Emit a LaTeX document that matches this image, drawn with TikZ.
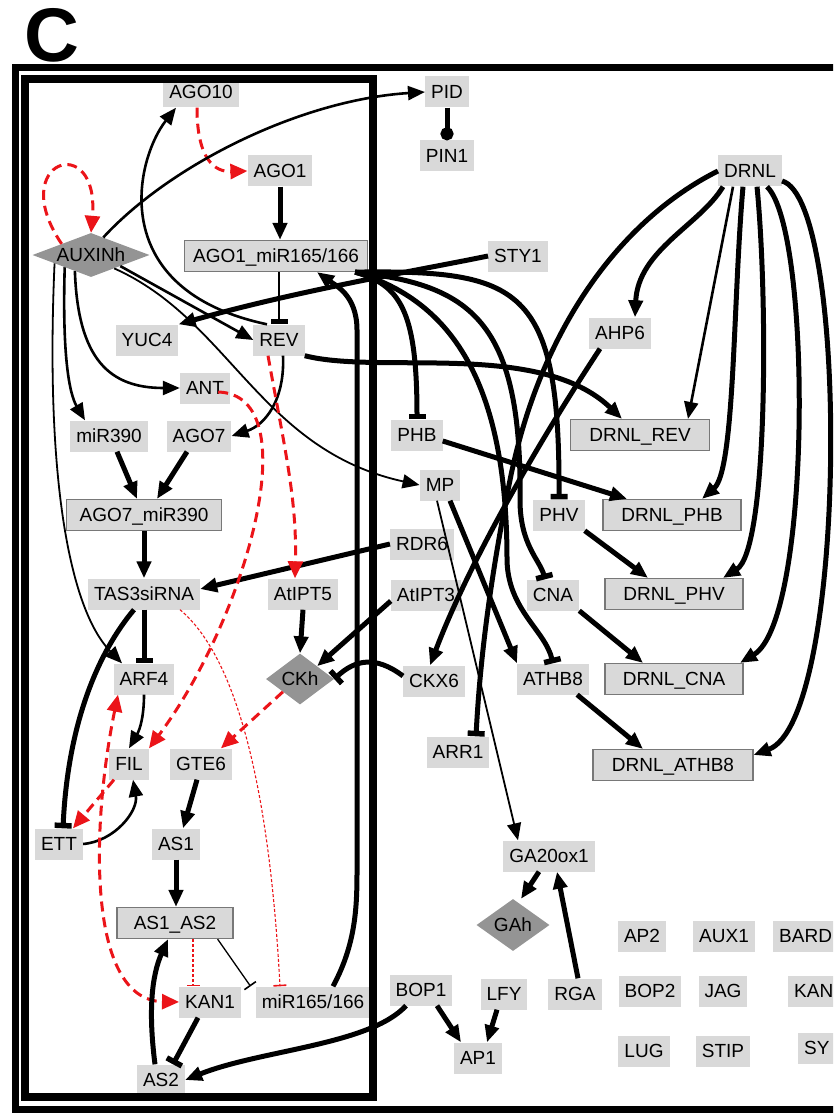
\documentclass[tikz,border=0pt]{standalone}
\usepackage{fontspec}
\setmainfont{Liberation Sans}
\usetikzlibrary{arrows.meta,shapes.geometric}
\definecolor{boxgray}{RGB}{217,217,217}
\definecolor{hormgray}{RGB}{148,148,148}
\definecolor{rimgray}{RGB}{120,120,120}
\definecolor{netred}{RGB}{235,20,25}

\begin{document}
\begin{tikzpicture}[x=1pt,y=-1pt,
	>={Triangle[length=17pt,width=14pt]},
	every node/.style={font=\fontsize{19}{22}\selectfont},
	gene/.style={fill=boxgray,inner xsep=6pt,inner ysep=0pt,minimum height=31pt,text height=14pt,text depth=1pt},
	cplx/.style={gene,draw=rimgray,line width=1.2pt},
	horm/.style={diamond,fill=hormgray,inner sep=0pt},
	fat/.style={line width=5pt},
	mid/.style={line width=2.6pt},
	slim/.style={line width=1.8pt},
	act/.style={->},
	inh/.style={-{Bar[width=17pt,line width=5.5pt]}},
	inhthin/.style={line width=1.3pt,-{Bar[width=14pt,line width=1.6pt]}},
	reddash/.style={draw=netred,line width=3pt,dash pattern=on 10pt off 6pt,-{Triangle[length=17pt,width=15pt]}},
	redfine/.style={draw=netred,line width=1.1pt,dash pattern=on 3pt off 2pt,-{Bar[width=13pt,line width=1.6pt]}}]

	\useasboundingbox (0,0) rectangle (833,1115);
	\clip (0,0) rectangle (833,1115);

	\node[font=\fontsize{76}{76}\bfseries\selectfont] (panel) at (52,35) {C};

	% left panel
	\node[gene] (AGO10) at (201,92) {AGO10};
	\node[gene] (AGO1) at (280,171) {AGO1};
	\node[horm,minimum width=117pt,minimum height=44pt,aspect=2.7] (AUXINh) at (91,255) {AUXINh};
	\node[cplx,minimum width=183pt] (AGOmiR) at (276,256) {AGO1\_miR165/166};
	\node[gene] (YUC4) at (147,340) {YUC4};
	\node[gene] (REV) at (279,340) {REV};
	\node[gene] (ANT) at (205,388) {ANT};
	\node[gene] (miR390) at (109,436) {miR390};
	\node[gene] (AGO7) at (199,436) {AGO7};
	\node[cplx,minimum width=155pt] (AGO7miR) at (144,515) {AGO7\_miR390};
	\node[gene] (TAS3) at (144,594) {TAS3siRNA};
	\node[gene] (AtIPT5) at (303,594) {AtIPT5};
	\node[gene] (ARF4) at (144,679) {ARF4};
	\node[horm,minimum width=68pt,minimum height=42pt] (CKh) at (300,679) {CKh};
	\node[gene] (FIL) at (129,764) {FIL};
	\node[gene] (GTE6) at (201,764) {GTE6};
	\node[gene] (ETT) at (59,844) {ETT};
	\node[gene] (AS1) at (176,844) {AS1};
	\node[cplx,minimum width=116pt] (AS1AS2) at (175,923) {AS1\_AS2};
	\node[gene] (KAN1) at (210,1002) {KAN1};
	\node[gene] (miR165) at (313,1002) {miR165/166};
	\node[gene] (AS2) at (161,1080) {AS2};

	% right part
	\node[gene] (PID) at (447,92) {PID};
	\node[gene] (PIN1) at (447,156) {PIN1};
	\node[gene] (DRNL) at (750,171) {DRNL};
	\node[gene] (STY1) at (518,256) {STY1};
	\node[gene] (AHP6) at (620,333) {AHP6};
	\node[gene] (PHB) at (417,435) {PHB};
	\node[cplx,minimum width=139pt] (DRNLREV) at (640,435) {DRNL\_REV};
	\node[gene] (MP) at (440,485) {MP};
	\node[gene] (PHV) at (559,515) {PHV};
	\node[cplx,minimum width=138pt] (DRNLPHB) at (672,515) {DRNL\_PHB};
	\node[gene] (RDR6) at (422,544) {RDR6};
	\node[gene] (AtIPT3) at (426,595) {AtIPT3};
	\node[gene] (CNA) at (553,595) {CNA};
	\node[cplx,minimum width=138pt] (DRNLPHV) at (674,594) {DRNL\_PHV};
	\node[gene] (CKX6) at (434,681) {CKX6};
	\node[gene] (ATHB8) at (553,679) {ATHB8};
	\node[cplx,minimum width=138pt] (DRNLCNA) at (674,679) {DRNL\_CNA};
	\node[gene] (ARR1) at (458,752) {ARR1};
	\node[cplx,minimum width=160pt] (DRNLATHB8) at (673,765) {DRNL\_ATHB8};
	\node[gene] (GA20ox1) at (549,856) {GA20ox1};
	\node[horm,minimum width=73pt,minimum height=42pt] (GAh) at (513,925) {GAh};
	\node[gene] (BOP1) at (421,990) {BOP1};
	\node[gene] (LFY) at (504,994) {LFY};
	\node[gene] (RGA) at (575,994) {RGA};
	\node[gene] (AP1) at (478,1058) {AP1};

	% unconnected genes
	\node[gene] (AP2) at (642,936) {AP2};
	\node[gene] (AUX1) at (724,936) {AUX1};
	\node[gene,anchor=west] (BARD) at (773,936) {BARD};
	\node[gene] (BOP2) at (650,991) {BOP2};
	\node[gene] (JAG) at (723,991) {JAG};
	\node[gene,anchor=west] (KAN) at (788,991) {KAN};
	\node[gene] (LUG) at (644,1051) {LUG};
	\node[gene] (STIP) at (723,1051) {STIP};
	\node[gene,anchor=west] (SY) at (798,1048) {SY};

	% edges, left panel
	\draw[reddash] ([xshift=-4pt]AGO10.south) .. controls (197,160) and (215,172) .. (AGO1.west);
	\draw[reddash] (AUXINh.north west) .. controls (5,160) and (100,130) .. (AUXINh.north);
	\draw[act,mid] (AUXINh.55) .. controls (170,165) and (300,100) .. (PID.west);
	\draw[act,mid] ([xshift=-12pt]REV.north) .. controls (105,290) and (135,160) .. ([xshift=-25pt]AGO10.south);
	\draw[act,fat] (AGO1.south) -- (AGO1.south |- AGOmiR.north);
	\draw[inh,mid] (REV.north |- AGOmiR.south) -- (REV.north);
	\draw[act,mid] (AUXINh.south east) -- (REV.west);
	\draw[act,slim] (AUXINh.-30) .. controls (230,320) and (260,450) .. (MP.west);
	\draw[act,mid] (AUXINh.225) .. controls (78,360) and (110,388) .. (ANT.west);
	\draw[act,mid] (AUXINh.205) .. controls (62,360) and (70,395) .. ([xshift=-24pt]miR390.north);
	\draw[act,slim] (AUXINh.193) .. controls (45,480) and (70,610) .. ([xshift=-22pt]ARF4.north);
	\draw[act,mid] ([xshift=4pt]REV.south) .. controls (285,400) and (265,425) .. (AGO7.east);
	\draw[act,fat] (STY1.west) .. controls (420,270) and (300,290) .. (YUC4.north east);
	\draw[act,fat] ([xshift=8pt]miR390.south) -- ([xshift=-7pt]AGO7miR.north);
	\draw[act,fat] ([xshift=-12pt]AGO7.south) -- ([xshift=13pt]AGO7miR.north);
	\draw[act,fat] (AGO7miR.south) -- (TAS3.north);
	\draw[act,fat] (RDR6.west) -- ([yshift=5pt]TAS3.east);
	\draw[inh,fat] (TAS3.south) -- (ARF4.north);
	\draw[inh,fat] ([xshift=-10pt]TAS3.south) .. controls (100,650) and (68,720) .. ([xshift=4pt]ETT.north);
	\draw[redfine] ([xshift=36pt]TAS3.south) .. controls (240,660) and (270,800) .. ([xshift=-33pt]miR165.north);
	\draw[act,fat] (AtIPT5.south) -- (CKh.north);
	\draw[act,fat] ([yshift=-6pt]AtIPT3.west) -- (CKh.north east);
	\draw[inh,fat] ([yshift=5pt]CKX6.west) .. controls (375,655) and (355,660) .. (CKh.east);
	\draw[reddash] (CKh.south west) -- ([xshift=20pt]GTE6.north);
	\draw[reddash] ([xshift=-11pt]REV.south) .. controls (285,450) and (297,500) .. ([xshift=-8pt]AtIPT5.north);
	\draw[reddash] ([xshift=-12pt,yshift=-4pt]ANT.east) .. controls (310,395) and (245,620) .. ([xshift=20pt]FIL.north);
	\draw[act,mid] (ARF4.south) to[out=-90,in=60] (FIL.north);
	\draw[act,mid] (ETT.east) to[out=5,in=-80] ([xshift=4pt]FIL.south);
	\draw[reddash] ([xshift=-15pt]FIL.south) -- ([xshift=14pt]ETT.north);
	\draw[reddash,{Triangle[length=17pt,width=15pt]}-{Triangle[length=17pt,width=15pt]}] ([xshift=-26pt]ARF4.south) .. controls (92,820) and (85,1000) .. (KAN1.west);
	\draw[act,fat] ([xshift=-4pt]GTE6.south) -- ([xshift=7pt]AS1.north);
	\draw[act,fat] (AS1.south) -- (AS1.south |- AS1AS2.north);
	\draw[redfine] ([xshift=18pt]AS1AS2.south) -- ([xshift=-17pt]KAN1.north);
	\draw[inhthin] ([xshift=-16pt]AS1AS2.south east) -- ([xshift=-5pt]miR165.north west);
	\draw[inh,fat] ([xshift=-12pt]KAN1.south) -- ([xshift=12pt]AS2.north);
	\draw[act,fat] ([xshift=-6pt]AS2.north) .. controls (148,1010) and (152,975) .. ([xshift=-7pt]AS1AS2.south);
	\draw[act,fat] ([xshift=-15pt]BOP1.south) .. controls (370,1045) and (260,1050) .. (AS2.east);
	\draw[act,fat] ([xshift=20pt]miR165.north) .. controls (358,940) and (357,900) .. (357,860) -- (357,330) .. controls (357,295) and (335,285) .. ([xshift=41pt]AGOmiR.south);

	% edges, right part
	\draw[fat,-{Circle[length=13pt]}] (PID.south) -- (PIN1.north);
	\draw[inh,fat] ([xshift=-13pt]AGOmiR.south east) .. controls (400,285) and (417,310) .. (PHB.north);
	\draw[inh,fat] ([xshift=-13pt]AGOmiR.south east) .. controls (520,270) and (560,285) .. (PHV.north);
	\draw[inh,fat] ([xshift=-13pt]AGOmiR.south east) .. controls (470,285) and (522,320) .. (520,500) .. controls (520,545) and (540,560) .. ([xshift=-8pt]CNA.north);
	\draw[inh,fat] ([xshift=-13pt]AGOmiR.south east) .. controls (450,300) and (507,380) .. (507,560) .. controls (508,610) and (545,630) .. (ATHB8.north);
	\draw[inh,fat] (DRNL.west) .. controls (620,220) and (540,330) .. (510,480) .. controls (490,580) and (480,660) .. ([xshift=18pt]ARR1.north);
	\draw[act,fat] ([xshift=-20pt]AHP6.south) .. controls (540,440) and (470,560) .. ([xshift=-4pt]CKX6.north);
	\draw[act,fat] ([xshift=-27pt]DRNL.south) .. controls (700,225) and (638,250) .. ([xshift=15pt]AHP6.north);
	\draw[act,mid] ([xshift=-17pt]DRNL.south) -- ([xshift=48pt]DRNLREV.north);
	\draw[act,fat] ([xshift=-7pt]DRNL.south) .. controls (733,300) and (735,470) .. ([xshift=30pt]DRNLPHB.north);
	\draw[act,fat] ([xshift=7pt]DRNL.south) .. controls (768,300) and (768,550) .. ([xshift=49pt]DRNLPHV.north);
	\draw[act,fat] ([xshift=17pt]DRNL.south) .. controls (812,230) and (812,620) .. ([xshift=66pt]DRNLCNA.north);
	\draw[act,fat] ([yshift=-10pt]DRNL.east) .. controls (850,200) and (848,720) .. ([yshift=10pt]DRNLATHB8.east);
	\draw[act,fat] (REV.south east) .. controls (380,375) and (540,340) .. ([xshift=-18pt]DRNLREV.north);
	\draw[act,fat] ([yshift=-6pt]PHB.east) -- ([xshift=-45pt]DRNLPHB.north);
	\draw[act,fat] (PHV.south east) -- ([xshift=-26pt]DRNLPHV.north);
	\draw[act,fat] (CNA.south east) -- ([xshift=-31pt]DRNLCNA.north);
	\draw[act,fat] ([xshift=-12pt]ATHB8.south east) -- ([xshift=-30pt]DRNLATHB8.north);
	\draw[act,fat] ([xshift=10pt]MP.south) -- ([xshift=-36pt]ATHB8.north);
	\draw[act,slim] ([xshift=-3pt]MP.south) -- ([xshift=-31pt]GA20ox1.north);
	\draw[act,fat] ([xshift=-10pt]GA20ox1.south) -- ([xshift=8pt]GAh.north);
	\draw[act,fat] ([xshift=3pt]RGA.north) -- ([xshift=8pt]GA20ox1.south);
	\draw[act,fat] ([xshift=16pt]BOP1.south) -- ([xshift=-17pt]AP1.north);
	\draw[act,fat] ([xshift=-7pt]LFY.south) -- ([xshift=9pt]AP1.north);

	% frames
	\draw[line width=7pt] (900,67.5) -| (15.5,1109) -- (900,1109);
	\draw[line width=8pt] (24.5,79) rectangle (372.5,1096.5);
\end{tikzpicture}
\end{document}
